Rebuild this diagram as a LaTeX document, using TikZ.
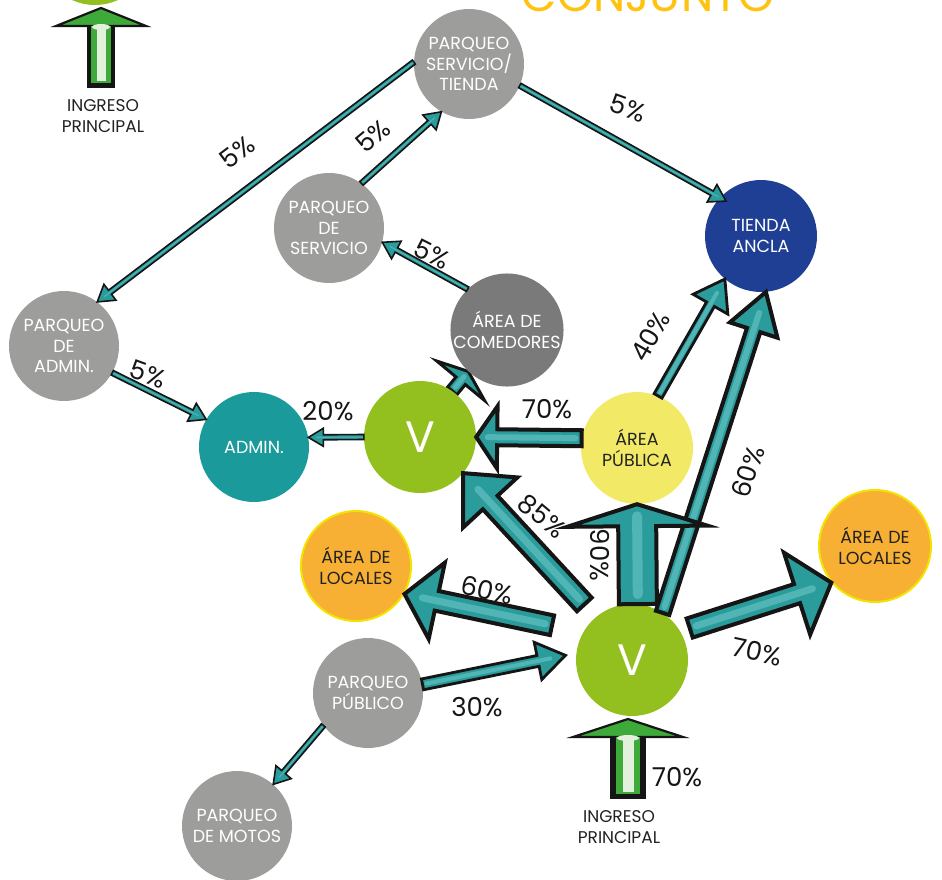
\documentclass[tikz,border=0pt]{standalone}
\usepackage{fontspec}
\setmainfont{Poppins}
\usetikzlibrary{calc}
\pgfdeclarelayer{bg}
\pgfsetlayers{bg,main}

\definecolor{grayc}{HTML}{9D9D9C}
\definecolor{darkgrayc}{HTML}{7A7A7A}
\definecolor{tealc}{HTML}{1A9A9A}
\definecolor{bluec}{HTML}{1F3F95}
\definecolor{greenc}{HTML}{93C01F}
\definecolor{yellowc}{HTML}{F2EA67}
\definecolor{orangec}{HTML}{F7B033}
\definecolor{orangeb}{HTML}{F4E300}
\definecolor{arrteal}{HTML}{2A9C9C}
\definecolor{arrhl}{HTML}{52B5B5}
\definecolor{outl}{HTML}{151515}
\definecolor{ingreen}{HTML}{3DAA3A}
\definecolor{inpale}{HTML}{E2F0DC}
\definecolor{titlec}{HTML}{FFC20E}
\definecolor{txtdark}{HTML}{222222}

\newcommand{\nodefont}{\fontsize{17.5}{20.5}\selectfont}
\newcommand{\pctfont}{\fontsize{26}{28}\selectfont}
\newcommand{\bigV}{\fontsize{44}{44}\selectfont}

% #1 style, #2 from, #3 to, #4 shorten start, #5 shorten end,
% #6 half shaft, #7 half head, #8 head length, #9 highlight width
\newcommand{\barrow}[9]{%
  \coordinate (BAa) at ($(#2)!#4!(#3)$);
  \coordinate (BAb) at ($(#3)!#5!(#2)$);
  \coordinate (BAm) at ($(BAb)!#8!(BAa)$);
  \filldraw[#1] ($(BAa)!#6!90:(BAb)$) -- ($(BAm)!#6!90:(BAb)$)
    -- ($(BAm)!#7!90:(BAb)$) -- (BAb) -- ($(BAm)!#7!-90:(BAb)$)
    -- ($(BAm)!#6!-90:(BAb)$) -- ($(BAa)!#6!-90:(BAb)$) -- cycle;
  \draw[arrhl, line width=#9, line cap=round] ($(BAa)!#9!(BAb)$) -- ($(BAm)!0.45!(BAb)$);
}

\tikzset{
  bubble/.style={circle, minimum size=110pt, inner sep=0pt, align=center,
    font=\nodefont, text=white},
  graybub/.style={bubble, fill=grayc},
  orangebub/.style={bubble, fill=orangec, draw=orangeb, line width=2pt, text=txtdark},
  pct/.style={font=\pctfont, text=outl, inner sep=0pt},
  thinA/.style={fill=arrteal, draw=outl, line width=1.6pt},
  medA/.style={fill=arrteal, draw=outl, line width=2.8pt},
  thickA/.style={fill=arrteal, draw=outl, line width=4pt},
  ingtext/.style={align=center, text=txtdark, font=\fontsize{17}{21}\selectfont},
  ingress/.pic={
    \filldraw[fill=ingreen, draw=outl, line width=2.2pt, line join=miter]
      (-50,-18) -- (0,0) -- (50,-18) -- cycle;
    \fill[outl] (-16,-18) rectangle (16,-80);
    \fill[ingreen] (-11,-18) rectangle (11,-75);
    \fill[inpale] (-5,-18) rectangle (5,-73);
    \fill[inpale] (0,-19) ellipse [x radius=10pt, y radius=3pt];
  }
}

\begin{document}
\begin{tikzpicture}[x=1pt, y=1pt]
\useasboundingbox (0,0) rectangle (942,-880);
\clip (0,0) rectangle (942,-880);

% title
\node[anchor=base, text=titlec, font=\fontsize{46}{50}\selectfont, inner sep=0pt] (title) at (648,-12) {CONJUNTO};

% circles
\node[bubble, fill=greenc] (g0) at (95,50) {};
\node[graybub] (pst) at (469,-64) {PARQUEO\\SERVICIO/\\TIENDA};
\node[graybub] (pds) at (329,-228) {PARQUEO\\DE\\SERVICIO};
\node[bubble, fill=darkgrayc] (com) at (507,-330) {ÁREA DE\\COMEDORES};
\node[bubble, fill=bluec, minimum size=112pt] (ta) at (761,-236) {TIENDA\\ANCLA};
\node[graybub] (padm) at (64,-346) {PARQUEO\\DE\\ADMIN.};
\node[bubble, fill=tealc] (adm) at (254,-447) {ADMIN.};
\node[bubble, fill=greenc, minimum size=112pt, font=\bigV] (vt) at (420,-437) {V};
\node[bubble, fill=yellowc, minimum size=112pt, text=txtdark] (ap) at (637,-448) {ÁREA\\PÚBLICA};
\node[orangebub] (ll) at (356,-566) {ÁREA DE\\LOCALES};
\node[orangebub, minimum size=112pt] (lr) at (875,-546) {ÁREA DE\\LOCALES};
\node[bubble, fill=greenc, minimum size=112pt, font=\bigV] (vb) at (632,-660) {V};
\node[graybub] (ppub) at (368,-693) {PARQUEO\\PÚBLICO};
\node[graybub] (motos) at (237,-826) {PARQUEO\\DE MOTOS};

% small arrow behind the circles (V -> comedores)
\begin{pgfonlayer}{bg}
\barrow{fill=arrteal, draw=outl, line width=3pt}{vt.55}{com.227}{0pt}{0pt}{6pt}{31pt}{12pt}{5pt}
\end{pgfonlayer}

% thin arrows
\barrow{thinA}{pst.178}{padm.53}{0pt}{0pt}{2.5pt}{10pt}{16pt}{1pt}
\barrow{thinA}{pds.54}{pst.240}{0pt}{0pt}{2.5pt}{10pt}{16pt}{1pt}
\barrow{thinA}{pst.-23}{ta.137}{0pt}{-7pt}{2.5pt}{10pt}{16pt}{1pt}
\barrow{thinA}{com.134}{pds.-15}{0pt}{0pt}{2.5pt}{10pt}{16pt}{1pt}
\barrow{thinA}{padm.-29}{adm.150}{0pt}{0pt}{2.5pt}{10pt}{16pt}{1pt}
\barrow{thinA}{vt.180}{adm.10}{0pt}{0pt}{2.5pt}{9pt}{15pt}{1pt}
\barrow{thinA}{ppub.216}{motos.49}{0pt}{0pt}{2.5pt}{10pt}{16pt}{1pt}

% medium arrows
\barrow{medA}{ppub.9}{vb.173}{0pt}{11pt}{5.5pt}{19pt}{28pt}{4pt}
\barrow{medA}{ap.68}{ta.230}{0pt}{0pt}{4.5pt}{20pt}{29pt}{4pt}

% thick arrows
\barrow{thickA}{ap.170}{vt.0}{0pt}{0pt}{8pt}{31pt}{21pt}{6pt}
\barrow{thickA}{vb.57}{ta.275}{0pt}{0pt}{7pt}{25pt}{40pt}{6pt}
\barrow{thickA}{vb.150}{ll.-30}{32pt}{0pt}{10pt}{39pt}{33pt}{7pt}
\barrow{thickA}{vb.130}{vt.-40}{17pt}{0pt}{10pt}{37pt}{40pt}{7pt}
\barrow{thickA}{vb.84}{ap.270}{0pt}{0pt}{19pt}{70pt}{22pt}{10pt}
\barrow{thickA}{vb.31}{lr.220}{10pt}{0pt}{10pt}{43pt}{36pt}{7pt}

% entrances
\pic[xscale=0.9] (ingA) at (101,-8) {ingress};
\node[ingtext] (ingAt) at (103,-116) {INGRESO\\PRINCIPAL};
\pic[xscale=1.1] (ingB) at (628,-719) {ingress};
\node[ingtext] (ingBt) at (619,-827) {INGRESO\\PRINCIPAL};

% percentage labels
\node[pct, rotate=37] (p1) at (237,-152) {5\%};
\node[pct, rotate=40] (p2) at (373,-136) {5\%};
\node[pct, rotate=-20] (p3) at (628,-108) {5\%};
\node[pct, rotate=-27] (p4) at (432,-254) {5\%};
\node[pct, rotate=-20] (p5) at (148,-374) {5\%};
\node[pct] (p6) at (328,-411) {20\%};
\node[pct] (p7) at (547,-409) {70\%};
\node[pct, rotate=60] (p8) at (650,-336) {40\%};
\node[pct, rotate=72] (p9) at (748,-472) {60\%};
\node[pct, rotate=-40] (p10) at (542,-516) {85\%};
\node[pct, rotate=-90] (p11) at (600,-555) {90\%};
\node[pct, rotate=-13] (p12) at (487,-590) {60\%};
\node[pct, rotate=-12] (p13) at (757,-652) {70\%};
\node[pct] (p14) at (477,-707) {30\%};
\node[pct] (p15) at (677,-777) {70\%};
\end{tikzpicture}
\end{document}
